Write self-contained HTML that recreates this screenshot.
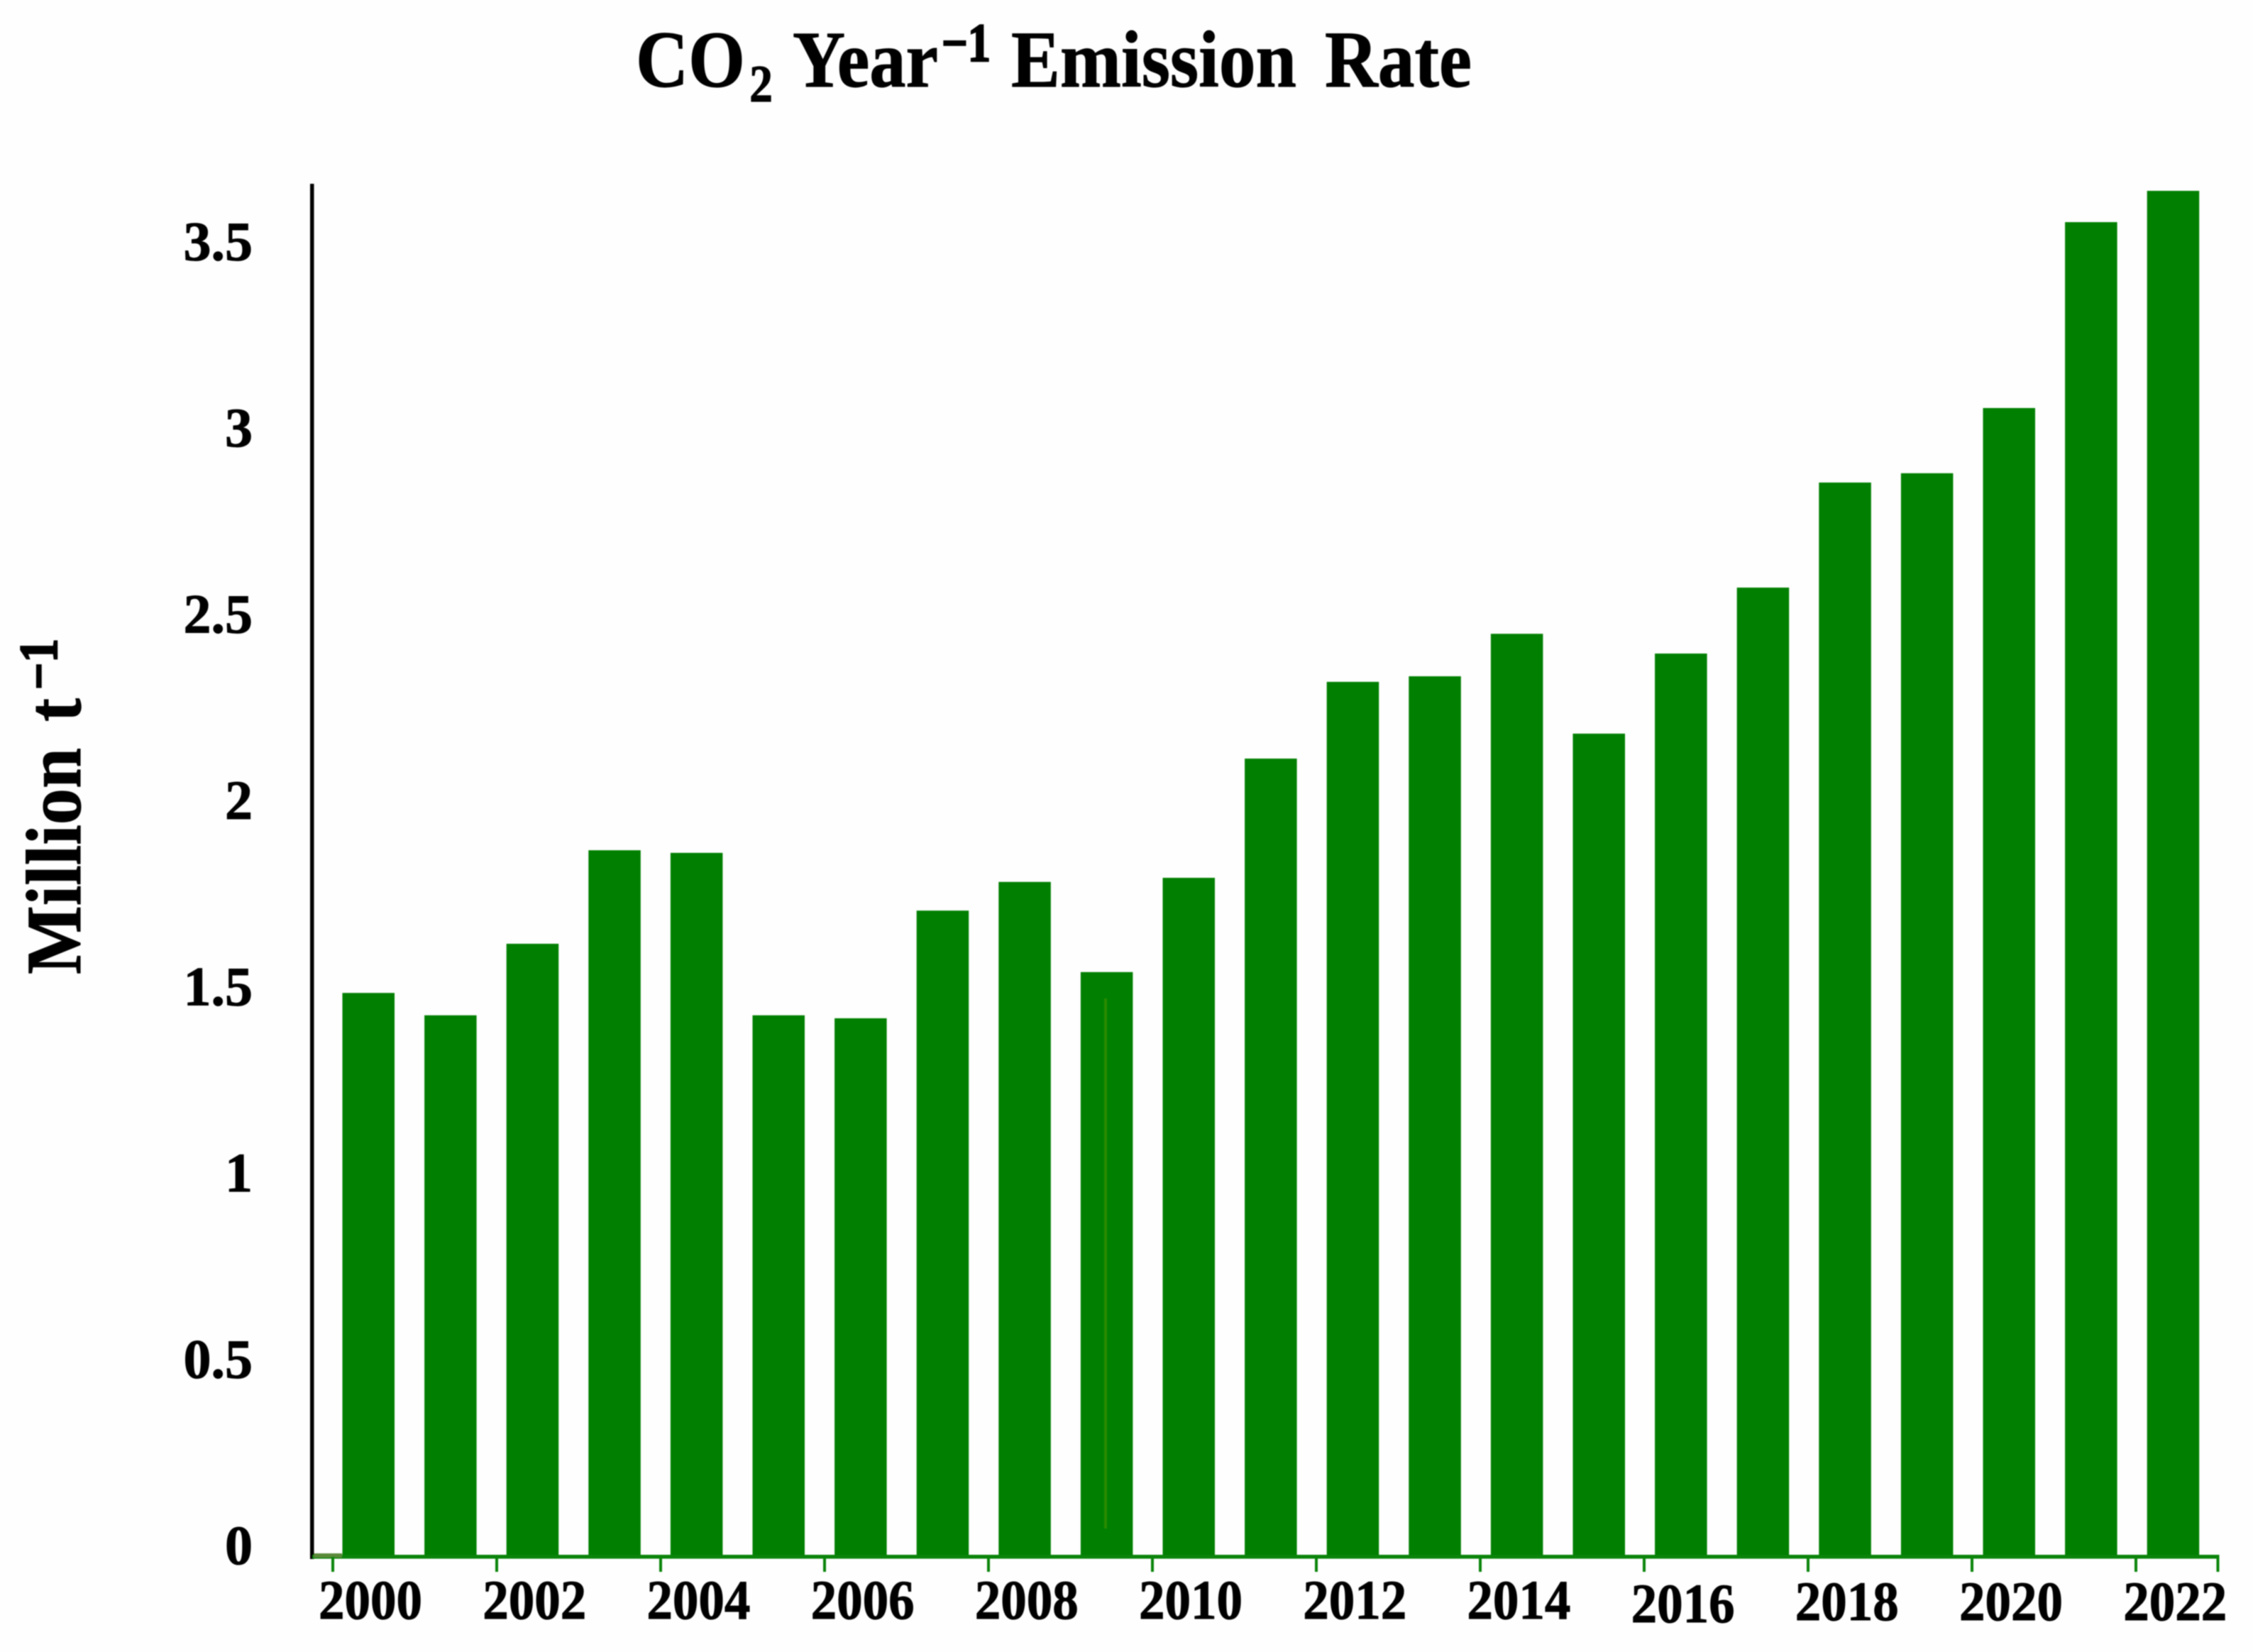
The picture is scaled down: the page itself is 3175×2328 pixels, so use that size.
<!DOCTYPE html>
<html lang="en">
<head>
<meta charset="utf-8">
<title>CO2 Year-1 Emission Rate</title>
<style>
  html, body { margin: 0; padding: 0; background: #fefefe; }
  body { width: 3175px; height: 2328px; overflow: hidden; }
  svg { display: block; filter: blur(0.8px); }
  text { font-family: "Liberation Serif", serif; font-weight: 700; fill: #000; stroke: #000; stroke-width: 1px; }
</style>
</head>
<body>
<svg id="chart" xmlns="http://www.w3.org/2000/svg" width="3175" height="2328" viewBox="0 0 3175 2328">
  <rect x="0" y="0" width="3175" height="2328" fill="#fefefe"/>

  <g>
    <text x="896" y="122" font-size="113" textLength="154" lengthAdjust="spacingAndGlyphs">CO</text>
    <text x="1056" y="143" font-size="74" textLength="33" lengthAdjust="spacingAndGlyphs">2</text>
    <text x="1117" y="122" font-size="113" textLength="205" lengthAdjust="spacingAndGlyphs">Year</text>
    <text x="1327" y="86" font-size="76" textLength="69" lengthAdjust="spacingAndGlyphs" style="stroke-width:2.5px">−1</text>
    <text x="1425" y="122" font-size="113" textLength="402" lengthAdjust="spacingAndGlyphs">Emission</text>
    <text x="1867" y="122" font-size="113" textLength="207" lengthAdjust="spacingAndGlyphs">Rate</text>
  </g>

  <g>
    <text transform="translate(113 1373) rotate(-90)" font-size="110" textLength="319" lengthAdjust="spacingAndGlyphs">Million</text>
    <text transform="translate(113 1017) rotate(-90)" font-size="110" textLength="33" lengthAdjust="spacingAndGlyphs">t</text>
    <text transform="translate(80 972) rotate(-90)" font-size="76" textLength="72" lengthAdjust="spacingAndGlyphs" style="stroke-width:2.5px">−1</text>
  </g>

  <g id="bars"></g>
  <rect x="1556" y="1407" width="4" height="747" fill="#2a8a00"/>
  <g id="y-labels"></g>

  <rect x="437" y="259" width="5.5" height="1938" fill="#000"/>
  <rect x="440" y="2191" width="2686" height="5.5" fill="#0a840a"/>
  <rect x="442" y="2189" width="40" height="6" fill="#5a8a3a"/>
  <g id="x-ticks"></g>
  <g id="x-labels"></g>
</svg>

<script>
const years = [2000,2001,2002,2003,2004,2005,2006,2007,2008,2009,2010,2011,2012,2013,2014,2015,2016,2017,2018,2019,2020,2021,2022];
const emissions = [1.510,1.450,1.642,1.893,1.886,1.450,1.442,1.731,1.808,1.566,1.819,2.139,2.345,2.360,2.474,2.206,2.421,2.598,2.880,2.905,3.080,3.579,3.663];
const yTickValues = [0,0.5,1,1.5,2,2.5,3,3.5];
const yTickLabels = ["0","0.5","1","1.5","2","2.5","3","3.5"];
const xTickYears = [2000,2002,2004,2006,2008,2010,2012,2014,2016,2018,2020,2022,2023];
const xTickLabels = ["2000","2002","2004","2006","2008","2010","2012","2014","2016","2018","2020","2022",""];

const NS = "http://www.w3.org/2000/svg";
function yScale(v) { return 2192 - 525 * v; }
function yLabel(v) { return 2204 - 525 * v; }
function xBar(year) { return 482.5 + 115.6 * (year - 2000); }
function xTick(year) { return 469 + 115.5 * (year - 2000); }
function xLabel(year) { return 449 + 115.6 * (year - 2000); }
function make(tag, parentId, attrs) {
  const el = document.createElementNS(NS, tag);
  for (const k in attrs) el.setAttribute(k, attrs[k]);
  document.getElementById(parentId).appendChild(el);
  return el;
}

years.forEach(function (year, i) {
  const top = yScale(emissions[i]);
  const bar = make("rect", "bars", { x: xBar(year), y: top, width: 73.5, height: 2192 - top, fill: "#007f00" });
  
  
});

yTickValues.forEach(function (v, i) {
  const label = make("text", "y-labels", { x: 356, y: yLabel(v), "font-size": 78, "text-anchor": "end" });
  label.textContent = yTickLabels[i];
  
  
});

xTickYears.forEach(function (year, i) {
  const tick = make("rect", "x-ticks", { x: xTick(year) - 2, y: 2194, width: 4, height: 21, fill: "#0a840a" });
  
  
  if (xTickLabels[i]) {
    const label = make("text", "x-labels", {
      x: xLabel(year),
      y: year === 2016 ? 2286 : (year >= 2018 ? 2283 : 2281),
      "font-size": 78,
      textLength: 146,
      lengthAdjust: "spacingAndGlyphs"
    });
    label.textContent = xTickLabels[i];
    
    
  }
});

const rightEnd = make("rect", "x-ticks", { x: xTick(2023) - 2, y: 2191, width: 4, height: 6, fill: "#0a840a" });


</script>
</body>
</html>
